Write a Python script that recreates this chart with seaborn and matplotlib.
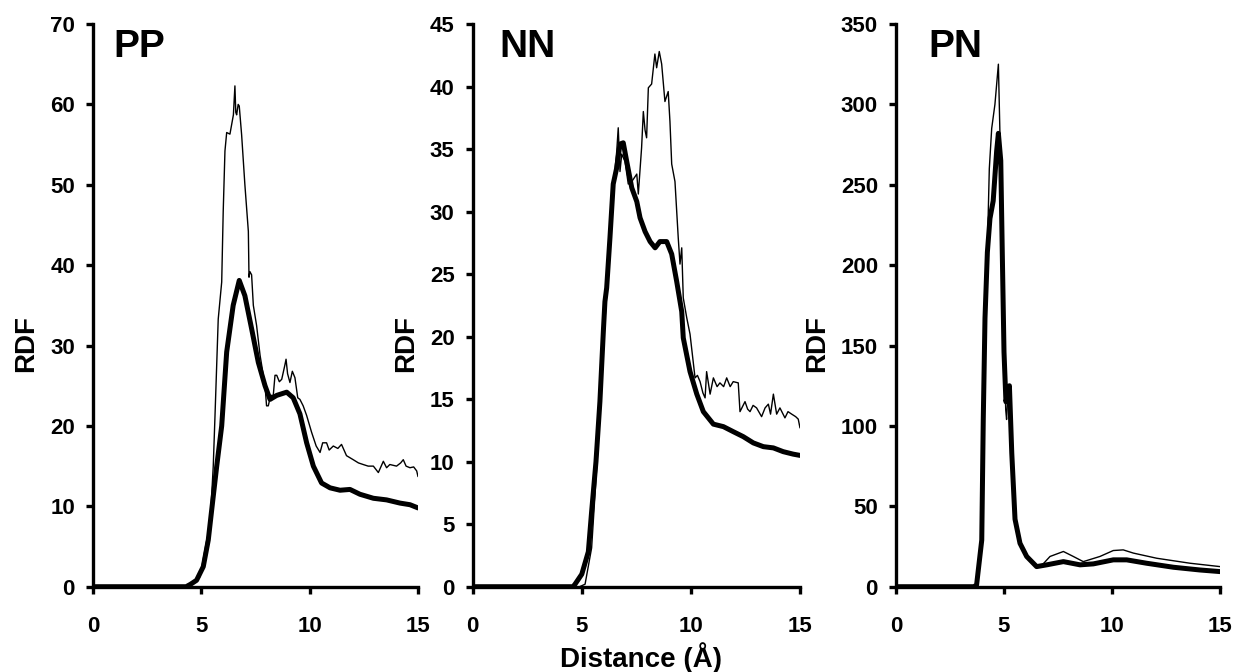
import matplotlib
matplotlib.use("Agg")
import matplotlib.pyplot as plt
import seaborn as sns

# ---------------- data ----------------
pp_thin_x = [0, 4.3, 4.5, 4.94, 5.25, 5.4, 5.55, 5.63, 5.78, 5.94, 6.01, 6.09, 6.17, 6.32, 6.48, 6.55,
             6.59, 6.63, 6.7, 6.75, 6.86, 7.01, 7.17, 7.2, 7.24, 7.32, 7.4, 7.55, 7.71, 7.94, 8.01, 8.09,
             8.2, 8.32, 8.4, 8.48, 8.6, 8.71, 8.85, 8.91, 8.98, 9.09, 9.2, 9.32, 9.45, 9.55, 9.7, 9.86,
             10.09, 10.3, 10.48, 10.6, 10.78, 10.9, 11.09, 11.3, 11.47, 11.7, 12.01, 12.25, 12.47, 12.7,
             12.94, 13.17, 13.4, 13.55, 13.7, 14.01, 14.2, 14.32, 14.45, 14.63, 14.8, 14.94, 15.0]
pp_thin_y = [0, 0, 0.2, 1.25, 5.8, 7.5, 15, 21.2, 33.3, 37.9, 46.7, 54.2, 56.5, 56.3, 58.7, 62.3,
             59.0, 58.7, 60.0, 59.8, 56.2, 50, 44.2, 38.5, 39.2, 38.8, 35, 32.5, 28.8, 25, 22.5, 22.5,
             23.8, 23.8, 26.3, 26.3, 25.5, 25.8, 27.5, 28.3, 26.5, 25.4, 26.8, 26, 23.5, 23.3, 22.5, 21.3,
             19.2, 17.5, 16.7, 17.9, 17.9, 17.0, 17.5, 17.2, 17.7, 16.3, 15.8, 15.4, 15.2, 15.0,
             15.0, 14.2, 15.6, 14.8, 15.2, 15.0, 15.4, 15.8, 15.0, 14.8, 14.9, 14.4, 13.7]

pp_thick_x = [0, 4.3, 4.5, 4.78, 5.09, 5.32, 5.48, 5.71, 5.94, 6.17, 6.47, 6.75, 7.01, 7.32, 7.63, 7.94,
              8.17, 8.48, 8.94, 9.24, 9.55, 9.86, 10.17, 10.55, 10.94, 11.4, 11.86, 12.32, 12.94, 13.55,
              14.17, 14.63, 15.0]
pp_thick_y = [0, 0, 0.3, 0.8, 2.5, 5.8, 9.6, 15, 20, 29.2, 35, 38.1, 36.2, 32.1, 27.9, 25,
              23.3, 23.8, 24.2, 23.5, 21.5, 17.9, 15, 12.9, 12.3, 12.0, 12.1, 11.5, 11.0, 10.8,
              10.4, 10.2, 9.8]

nn_thin_x = [0, 4.9, 5.15, 5.45, 5.7, 5.9, 6.05, 6.2, 6.4, 6.5, 6.6, 6.67, 6.75, 6.83, 6.98, 7.13,
             7.29, 7.52, 7.59, 7.74, 7.82, 7.9, 7.97, 8.05, 8.2, 8.35, 8.43, 8.55, 8.66, 8.81, 8.96,
             9.04, 9.12, 9.27, 9.42, 9.5, 9.58, 9.65, 9.81, 9.96, 10.19, 10.3, 10.42, 10.55, 10.65,
             10.72, 10.88, 11.03, 11.2, 11.33, 11.5, 11.64, 11.8, 11.94, 12.17, 12.25, 12.48, 12.6,
             12.71, 12.85, 13.01, 13.24, 13.4, 13.55, 13.65, 13.78, 13.93, 14.08, 14.31, 14.45, 14.62,
             14.8, 14.92, 15.0]
nn_thin_y = [0, 0, 0.2, 3.1, 10, 16, 21, 25, 31, 33, 34.8, 36.7, 33.2, 34.6, 34, 32.2,
             32.4, 33, 31.4, 35.1, 38, 36.5, 35.9, 39.9, 40.2, 42.6, 41.5, 42.8, 41.8, 38.8, 39.6,
             37.2, 33.8, 32.4, 27.9, 25.8, 27.1, 23.1, 21.5, 20.2, 16.7, 16.9, 16.4, 15.5, 15.1,
             17.2, 15.4, 16.7, 16.0, 16.3, 16.0, 16.7, 16.0, 16.4, 16.3, 14.0, 14.8, 14.2,
             14.0, 14.5, 14.3, 13.6, 14.3, 14.6, 13.8, 15.4, 13.8, 14.3, 13.5, 14.0, 13.8,
             13.6, 13.4, 12.7]

nn_thick_x = [0, 4.6, 4.69, 5.0, 5.3, 5.45, 5.65, 5.83, 5.99, 6.06, 6.14, 6.29, 6.44, 6.6, 6.75, 6.9,
              7.06, 7.29, 7.52, 7.67, 7.9, 8.13, 8.36, 8.58, 8.89, 9.12, 9.35, 9.58, 9.65, 9.96,
              10.27, 10.57, 11.03, 11.49, 11.94, 12.4, 12.86, 13.32, 13.78, 14.23, 14.69, 15.0]
nn_thick_y = [0, 0, 0.2, 1.0, 2.8, 6.0, 10.0, 14.8, 20.5, 22.8, 23.9, 27.9, 32.2, 33.5, 35.4, 35.5,
              34, 31.9, 30.8, 29.5, 28.4, 27.6, 27.1, 27.6, 27.6, 26.6, 24.4, 22, 19.9, 17.2,
              15.4, 14.0, 13, 12.8, 12.4, 12.0, 11.5, 11.2, 11.1, 10.8, 10.6, 10.5]

pn_thin_x = [0, 3.6, 3.73, 3.97, 4.04, 4.12, 4.23, 4.32, 4.43, 4.58, 4.74, 4.81, 4.85, 4.92, 5.0,
             5.08, 5.12, 5.2, 5.25, 5.36, 5.51, 5.74, 6.05, 6.51, 6.8, 7.13, 7.75, 8.21, 8.67, 9.44,
             10.06, 10.52, 10.99, 12.07, 13.61, 15.0]
pn_thin_y = [0, 0, 1, 25, 104, 167, 210, 260, 285, 300, 325, 283, 265, 208, 146,
             110, 104, 125, 124, 83, 42, 27, 18.8, 12.5, 14, 18.8, 21.9, 18.8, 15.6, 18.8,
             22.5, 22.9, 20.9, 17.7, 14.6, 12.5]

pn_thick_x = [0, 3.6, 3.73, 3.97, 4.04, 4.12, 4.23, 4.35, 4.5, 4.66, 4.74, 4.85, 4.92, 5.0, 5.09,
              5.25, 5.36, 5.51, 5.74, 6.05, 6.51, 6.98, 7.75, 8.52, 9.14, 10.06, 10.68, 11.6, 12.84,
              14.07, 15.0]
pn_thick_y = [0, 0, 1, 29, 104, 167, 208, 229, 240, 271, 282, 265, 208, 146, 115,
              125, 83, 42, 27, 18.8, 12.5, 13.6, 15.6, 13.6, 14.2, 16.7, 16.7, 14.6, 12.1,
              10.4, 9.4]

panel_names = ["PP", "NN", "PN"]
x_ticks = [0, 5, 10, 15]
y_ticks_pp = [0, 10, 20, 30, 40, 50, 60, 70]
y_ticks_nn = [0, 5, 10, 15, 20, 25, 30, 35, 40, 45]
y_ticks_pn = [0, 50, 100, 150, 200, 250, 300, 350]

# ---------------- style ----------------
sns.set_style("ticks")
plt.rcParams["font.family"] = ["Liberation Sans", "DejaVu Sans"]
plt.rcParams["font.weight"] = "bold"
plt.rcParams["text.color"] = "black"
plt.rcParams["axes.labelcolor"] = "black"
plt.rcParams["xtick.color"] = "black"
plt.rcParams["ytick.color"] = "black"
plt.rcParams["xtick.labelcolor"] = "black"
plt.rcParams["ytick.labelcolor"] = "black"

fig = plt.figure(figsize=(12.39, 6.72), dpi=100)

W, H = 1239, 672
y_bottom = 586.7
y_top = 24.0
panels = [
    (93.0, 418.0, pp_thin_x, pp_thin_y, pp_thick_x, pp_thick_y, y_ticks_pp, 0.062),
    (472.7, 800.0, nn_thin_x, nn_thin_y, nn_thick_x, nn_thick_y, y_ticks_nn, 0.080),
    (896.0, 1220.0, pn_thin_x, pn_thin_y, pn_thick_x, pn_thick_y, y_ticks_pn, 0.10),
]

for i, (l, r, tx, ty, kx, ky, yt, lab_x) in enumerate(panels):
    ax = fig.add_axes([l / W, 1 - y_bottom / H, (r - l) / W, (y_bottom - y_top) / H])
    sns.lineplot(x=tx, y=ty, ax=ax, color="black", linewidth=1.0, estimator=None)
    sns.lineplot(x=kx, y=ky, ax=ax, color="black", linewidth=3.6, estimator=None)
    ax.set_xlim(0, 15)
    ax.set_ylim(yt[0], yt[-1])
    ax.set_xticks(x_ticks)
    ax.set_yticks(yt)
    ax.set_xticklabels([str(v) for v in x_ticks], fontsize=16, fontweight="bold")
    ax.set_yticklabels([str(v) for v in yt], fontsize=16, fontweight="bold")
    sns.despine(ax=ax)
    for s in ["left", "bottom"]:
        ax.spines[s].set_linewidth(2.4)
        ax.spines[s].set_color("black")
    ax.tick_params(axis="both", direction="out", length=5, width=2.4, color="black")
    ax.tick_params(axis="y", pad=8)
    ax.tick_params(axis="x", pad=16)
    ax.set_xlabel("")
    ax.set_ylabel("RDF", fontsize=20, fontweight="bold", labelpad=8)
    ax.yaxis.label.set_y(0.433)
    ax.text(lab_x, 0.941, panel_names[i], transform=ax.transAxes, fontsize=28,
            fontweight="bold", ha="left", va="baseline")
    ax.grid(False)

fig.text(641 / W, 1 - 658 / H, "Distance (Å)", ha="center", va="center",
         fontsize=20, fontweight="bold")

fig.savefig("out.png", dpi=100, facecolor="white")
